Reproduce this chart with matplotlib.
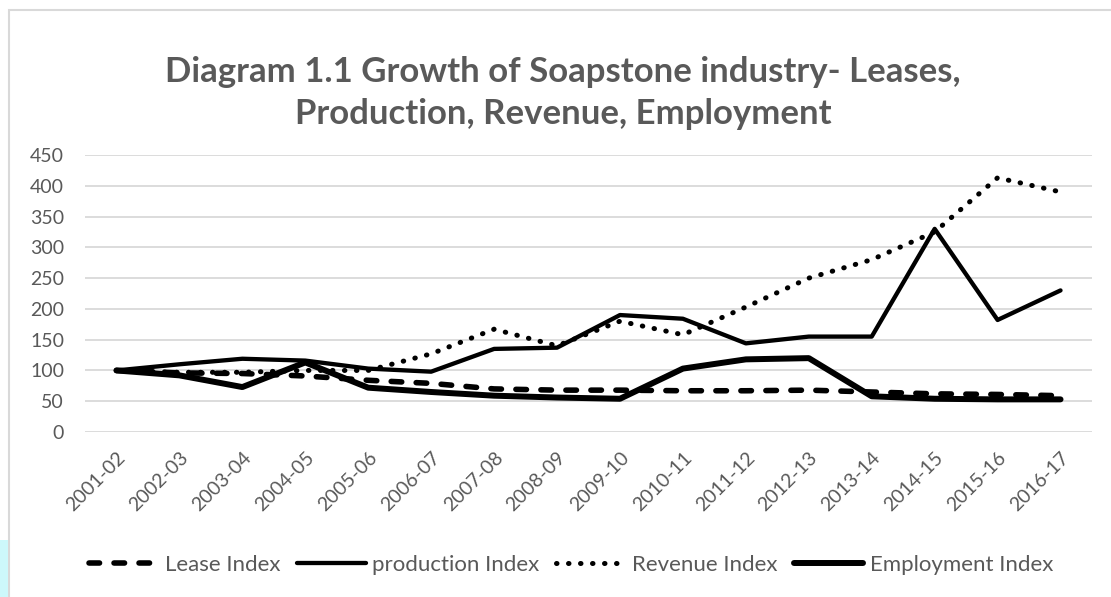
#!/usr/bin/env python3
"""
Diagram 1.1 - Growth of Soapstone industry (index, 2001-02 = 100)
"""

import matplotlib
matplotlib.use('Agg')
import matplotlib.pyplot as plt
from matplotlib.patches import Rectangle

# Dados
years = ['2001-02', '2002-03', '2003-04', '2004-05', '2005-06', '2006-07',
         '2007-08', '2008-09', '2009-10', '2010-11', '2011-12', '2012-13',
         '2013-14', '2014-15', '2015-16', '2016-17']
lease_index = [100, 96, 95, 91, 84, 79, 70, 68, 68, 67, 67, 68, 65, 62, 61, 59]
production_index = [100, 110, 119, 116, 103, 98, 135, 137, 190, 184, 144, 155,
                    155, 330, 182, 230]
revenue_index = [100, 97, 97, 100, 100, 127, 167, 140, 180, 158, 203, 250,
                 280, 325, 413, 390]
employment_index = [100, 92, 73, 113, 72, 65, 59, 56, 54, 103, 118, 120,
                    58, 54, 53, 53]
y_ticks = [0, 50, 100, 150, 200, 250, 300, 350, 400, 450]

TEXT = '#595959'
GRID = '#d9d9d9'
FONT = ['Lato', 'DejaVu Sans']


def create_chart(output='out.png'):
    """Desenha o grafico de linhas"""
    plt.rcParams['font.family'] = FONT
    fig = plt.figure(figsize=(11.11, 5.97), dpi=100)

    # moldura da area do grafico (estilo Excel) e faixa ciano a esquerda
    fig.patches.append(Rectangle((9 / 1111, -0.05), 1.2, 1 - 10 / 597 + 0.05,
                                 transform=fig.transFigure, fill=False,
                                 edgecolor=GRID, linewidth=1.5))
    fig.patches.append(Rectangle((0, 0), 8 / 1111, 1 - 540 / 597,
                                 transform=fig.transFigure, facecolor='#cdf8fb',
                                 edgecolor='none'))

    ax = fig.add_axes([85 / 1111, 1 - 432 / 597, 1007 / 1111, 277 / 597])
    x = list(range(len(years)))

    ax.plot(x, lease_index, color='black', linewidth=4.0, dashes=(1.9, 2.6),
            dash_capstyle='round', label='Lease Index')
    ax.plot(x, production_index, color='black', linewidth=3.1,
            solid_capstyle='round', solid_joinstyle='round', label='production Index')
    ax.plot(x, revenue_index, color='black', linewidth=3.6, dashes=(0.1, 2.3),
            dash_capstyle='round', label='Revenue Index')
    ax.plot(x, employment_index, color='black', linewidth=4.3,
            solid_capstyle='round', solid_joinstyle='round', label='Employment Index')

    ax.set_xlim(-0.5, len(years) - 0.5)
    ax.set_ylim(0, 450)
    ax.set_yticks(y_ticks)
    ax.set_xticks(x)
    ax.set_xticklabels(years, rotation=45, ha='right', rotation_mode='anchor')
    ax.tick_params(axis='both', length=0, colors=TEXT, labelsize=14)
    ax.tick_params(axis='y', pad=15)
    ax.tick_params(axis='x', pad=12)
    ax.grid(axis='y', color=GRID, linewidth=1.3)
    ax.set_axisbelow(True)
    for spine in ax.spines.values():
        spine.set_visible(False)

    fig.text(0.507, 1 - 72 / 597, 'Diagram 1.1 Growth of Soapstone industry- Leases,',
             ha='center', va='center', fontsize=25, fontweight='bold', color=TEXT)
    fig.text(0.507, 1 - 114 / 597, 'Production, Revenue, Employment',
             ha='center', va='center', fontsize=25, fontweight='bold', color=TEXT)

    leg = fig.legend(loc='center', bbox_to_anchor=(0.514, 1 - 565 / 597), ncol=4,
                     frameon=False, fontsize=16, handlelength=3.1,
                     handletextpad=0.3, columnspacing=0.75)
    for t in leg.get_texts():
        t.set_color(TEXT)

    fig.savefig(output, dpi=100)
    plt.close(fig)


if __name__ == '__main__':
    create_chart()
